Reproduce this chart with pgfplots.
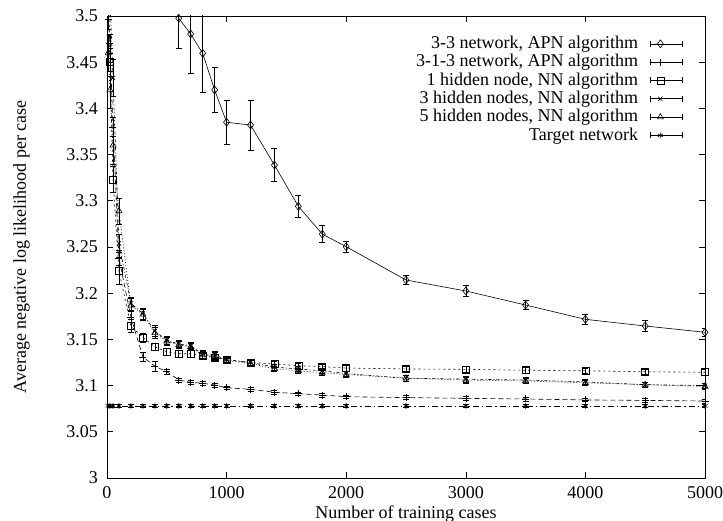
\documentclass[border=0pt]{standalone}
\usepackage{fontspec}
\setmainfont{Liberation Serif}
\usepackage{pgfplots}
\pgfplotsset{compat=1.18}
\pgfplotstableread{
x y e
10 4.40 0.05
25 4.20 0.05
50 4.00 0.05
100 3.85 0.05
200 3.72 0.05
300 3.64 0.05
400 3.58 0.05
500 3.545 0.035
600 3.4975 0.033
700 3.4805 0.043
800 3.4596 0.042
900 3.42 0.024
1000 3.385 0.024
1200 3.382 0.027
1400 3.3387 0.018
1600 3.294 0.0115
1800 3.264 0.009
2000 3.2503 0.006
2500 3.2143 0.005
3000 3.2024 0.006
3500 3.1872 0.005
4000 3.1717 0.005
4500 3.1645 0.006
5000 3.1577 0.004
}\apnA
\pgfplotstableread{
x y e
10 3.496 0.01
25 3.47 0.01
50 3.38 0.01
100 3.238 0.008
200 3.174 0.006
300 3.131 0.0045
400 3.121 0.005
500 3.115 0.003
600 3.106 0.002
700 3.1035 0.002
800 3.1025 0.002
900 3.1006 0.002
1000 3.0977 0.002
1200 3.096 0.002
1400 3.0928 0.002
1600 3.0912 0.002
1800 3.0898 0.002
2000 3.088 0.002
2500 3.087 0.002
3000 3.0862 0.002
3500 3.0855 0.002
4000 3.0845 0.002
4500 3.084 0.002
5000 3.0833 0.002
}\apnB
\pgfplotstableread{
x y e
10 3.55 0.015
25 3.45 0.015
50 3.323 0.014
100 3.224 0.0145
200 3.1645 0.007
300 3.152 0.005
400 3.142 0.004
500 3.1367 0.004
600 3.1345 0.004
700 3.1345 0.004
800 3.132 0.003
900 3.1306 0.003
1000 3.128 0.003
1200 3.125 0.003
1400 3.1235 0.003
1600 3.1215 0.003
1800 3.1205 0.003
2000 3.119 0.003
2500 3.118 0.003
3000 3.1176 0.003
3500 3.1166 0.003
4000 3.116 0.003
4500 3.115 0.003
5000 3.1144 0.003
}\nnA
\pgfplotstableread{
x y e
10 3.60 0.02
25 3.52 0.02
50 3.433 0.02
100 3.254 0.01
200 3.189 0.007
300 3.178 0.006
400 3.159 0.006
500 3.149 0.004
600 3.145 0.004
700 3.143 0.004
800 3.134 0.004
900 3.133 0.004
1000 3.128 0.003
1200 3.125 0.003
1400 3.120 0.003
1600 3.118 0.003
1800 3.116 0.003
2000 3.113 0.003
2500 3.108 0.003
3000 3.107 0.003
3500 3.106 0.003
4000 3.104 0.003
4500 3.101 0.003
5000 3.100 0.003
}\nnB
\pgfplotstableread{
x y e
10 3.46 0.02
25 3.42 0.02
50 3.36 0.02
100 3.289 0.014
200 3.187 0.007
300 3.177 0.006
400 3.157 0.006
500 3.148 0.004
600 3.144 0.004
700 3.142 0.004
800 3.133 0.004
900 3.132 0.004
1000 3.127 0.003
1200 3.124 0.003
1400 3.118 0.003
1600 3.116 0.003
1800 3.114 0.003
2000 3.112 0.003
2500 3.108 0.003
3000 3.106 0.003
3500 3.105 0.003
4000 3.103 0.003
4500 3.101 0.003
5000 3.099 0.003
}\nnC
\pgfplotstableread{
x y e
10 3.078 0.0015
25 3.078 0.0015
50 3.078 0.0015
100 3.078 0.0015
200 3.078 0.0015
300 3.078 0.0015
400 3.078 0.0015
500 3.078 0.0015
600 3.078 0.0015
700 3.078 0.0015
800 3.078 0.0015
900 3.078 0.0015
1000 3.078 0.0015
1200 3.078 0.0015
1400 3.078 0.0015
1600 3.078 0.0015
1800 3.078 0.0015
2000 3.078 0.0015
2500 3.078 0.0015
3000 3.078 0.0015
3500 3.078 0.0015
4000 3.078 0.0015
4500 3.078 0.0015
5000 3.078 0.0015
}\target
\begin{document}
\fontsize{18}{21}\selectfont
\begin{tikzpicture}
\path[use as bounding box] (-107pt,-43pt) rectangle (616pt,478pt);
\begin{axis}[
  scale only axis, width=598pt, height=462pt,
  xmin=0, xmax=5000, ymin=3, ymax=3.5,
  xtick={0,1000,2000,3000,4000,5000},
  xticklabels={0,1000,2000,3000,4000,5000},
  ytick={3,3.05,3.1,3.15,3.2,3.25,3.3,3.35,3.4,3.45,3.5},
  yticklabels={3,3.05,3.1,3.15,3.2,3.25,3.3,3.35,3.4,3.45,3.5},
  tick align=inside, major tick length=6pt,
  tick style={black, line width=0.6pt},
  axis line style={line width=0.8pt},
  xticklabel style={anchor=base, yshift=-21pt},
  yticklabel style={anchor=east, xshift=-3pt},
  xlabel={Number of training cases},
  xlabel style={at={(axis description cs:0.5,-0.0866)}, anchor=base},
  ylabel={Average negative log likelihood per case},
  ylabel style={at={(axis description cs:-0.1355,0.5)}, anchor=base},
  legend cell align=right,
  legend plot pos=right,
  legend style={draw=none, fill=none, at={(axis description cs:0.968,0.962)}, anchor=north east,
    nodes={inner sep=0pt, text height=12.8pt, text depth=3.5pt}, row sep=2pt, column sep=12pt},
  legend image code/.code={
    \draw[solid,mark=none,line width=0.6pt] (0pt,-3pt)--(0pt,3pt) (0pt,0pt)--(32pt,0pt) (32pt,-3pt)--(32pt,3pt);
    \draw[solid] plot[only marks] coordinates {(10pt,0pt)};
  },
  every axis plot/.append style={black, line width=0.6pt, mark options={solid, line width=0.6pt},
    error bars/y dir=both, error bars/y explicit,
    error bars/error bar style={solid, line width=0.6pt},
    error bars/error mark options={solid, rotate=90, mark size=3pt, line width=0.6pt}},
]
\addplot[mark=diamond, mark size=4pt] table[x=x,y=y,y error=e] {\apnA};
\addlegendentry{3-3 network, APN algorithm}
\addplot[dash pattern=on 5pt off 3pt, mark=+, mark size=3.5pt] table[x=x,y=y,y error=e] {\apnB};
\addlegendentry{3-1-3 network, APN algorithm}
\addplot[dash pattern=on 2pt off 3pt, mark=square, mark size=3.5pt] table[x=x,y=y,y error=e] {\nnA};
\addlegendentry{1 hidden node, NN algorithm}
\addplot[dash pattern=on 3pt off 2pt on 1pt off 2pt, mark=x, mark size=3pt] table[x=x,y=y,y error=e] {\nnB};
\addlegendentry{3 hidden nodes, NN algorithm}
\addplot[dash pattern=on 1pt off 2pt, mark=triangle, mark size=3.5pt] table[x=x,y=y,y error=e] {\nnC};
\addlegendentry{5 hidden nodes, NN algorithm}
\addplot[dash pattern=on 6pt off 3pt on 1.5pt off 3pt, mark=asterisk, mark size=3pt] table[x=x,y=y,y error=e] {\target};
\addlegendentry{Target network}
\end{axis}
\end{tikzpicture}
\end{document}
